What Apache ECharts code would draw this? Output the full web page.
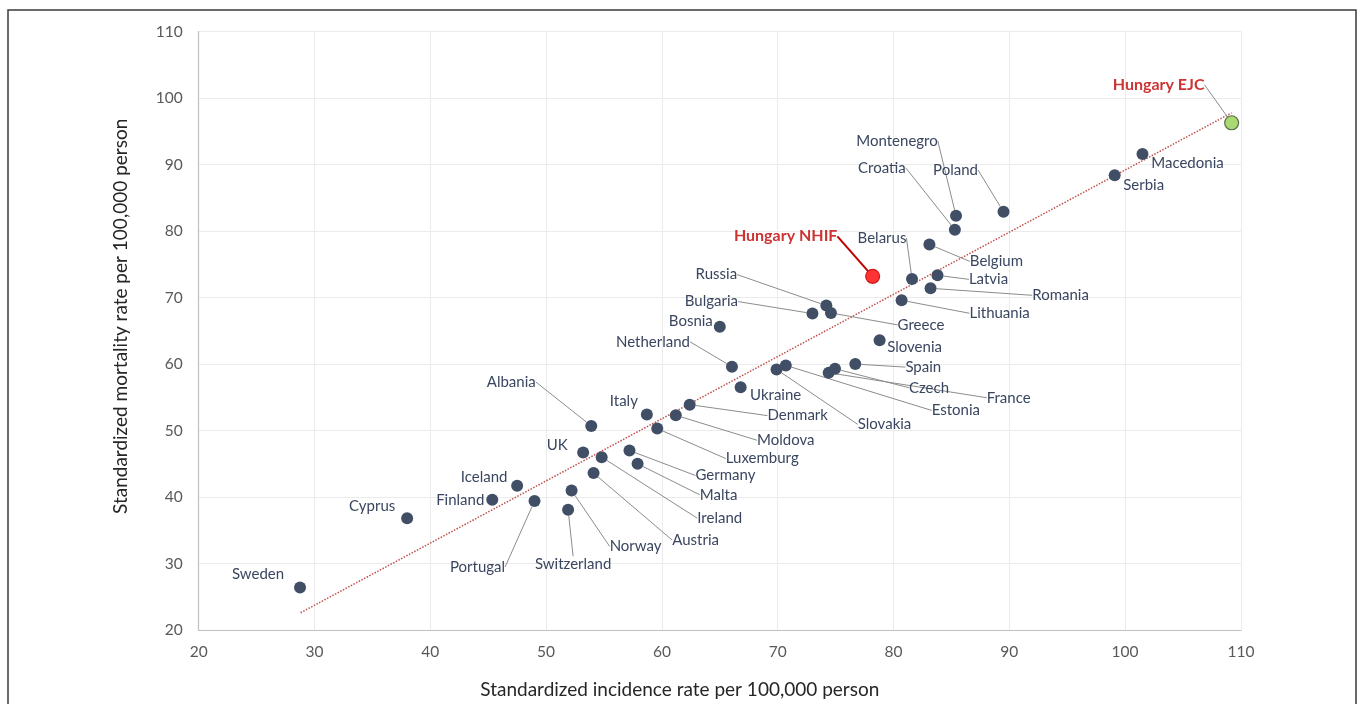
<!DOCTYPE html>
<html>
<head>
<meta charset="utf-8">
<script src="https://cdn.jsdelivr.net/npm/echarts@6/dist/echarts.min.js"></script>
<style>
html,body{margin:0;padding:0;background:#fff;}
#chart{width:1360px;height:704px;}
</style>
</head>
<body>
<div id="chart"></div>
<script>
// ---- data ----
const countries = ['Sweden','Cyprus','Finland','Iceland','Portugal','Switzerland','Norway','UK','Albania','Austria','Ireland','Germany','Malta','Italy','Luxemburg','Moldova','Denmark','Netherland','Ukraine','Slovakia','Estonia','France','Czech','Spain','Slovenia','Bosnia','Bulgaria','Russia','Greece','Belarus','Lithuania','Montenegro','Croatia','Poland','Belgium','Latvia','Romania','Serbia','Macedonia'];
const incidence = [28.75,38.0,45.35,47.5,49.0,51.9,52.2,53.2,53.9,54.1,54.8,57.2,57.9,58.7,59.6,61.2,62.4,66.05,66.8,69.9,70.7,74.4,74.95,76.7,78.8,65.0,73.0,74.2,74.6,81.6,80.7,85.4,85.3,89.5,83.1,83.8,83.2,99.1,101.5];
const mortality = [26.4,36.8,39.6,41.7,39.4,38.1,41.0,46.7,50.7,43.6,46.0,47.0,45.0,52.4,50.3,52.3,53.9,59.6,56.5,59.2,59.8,58.7,59.3,60.0,63.6,65.6,67.6,68.8,67.7,72.8,69.6,82.3,80.2,82.9,78.0,73.35,71.4,88.4,91.6];
const hungaryLabels = ['Hungary NHIF','Hungary EJC'];
const hungaryIncidence = [78.2,109.2];
const hungaryMortality = [73.2,96.3];
const trendIncidence = [28.8,109.2];
const trendMortality = [22.6,97.8];
const axisMin = 20, axisMax = 110, axisStep = 10;
const xTitle = 'Standardized incidence rate per 100,000 person';
const yTitle = 'Standardized mortality rate per 100,000 person';

// ---- label placement (pixel offsets from the marker) ----
const labelOffset = {
  Sweden:[-42,-13], Cyprus:[-35,-12], Finland:[-32,0], Iceland:[-33,-9], Portugal:[-57,66],
  Switzerland:[5,54], Norway:[64,56], UK:[-26,-7], Albania:[-80,-44], Austria:[102,67],
  Ireland:[118,61], Germany:[96,25], Malta:[81,31], Italy:[-23,-13], Luxemburg:[105,30],
  Moldova:[110,25], Denmark:[108,11], Netherland:[-79,-25], Ukraine:[35,8], Slovakia:[108,55],
  Estonia:[170,45], France:[180,25], Czech:[94,19], Spain:[68,3], Slovenia:[35,7],
  Bosnia:[-29,-6], Bulgaria:[-101,-12], Russia:[-110,-31], Greece:[90,12], Belarus:[-30,-41],
  Lithuania:[98,13], Montenegro:[-59,-75], Croatia:[-73,-62], Poland:[-48,-42], Belgium:[67,17],
  Latvia:[51,4], Romania:[130,7], Serbia:[29,10], Macedonia:[45,9]
};
const noLeader = ['Sweden','Cyprus','Finland','Iceland','UK','Italy','Ukraine','Bosnia','Slovenia','Serbia','Macedonia'];
const hungaryOffset = [[-87,-40],[-73,-38]];

const FONT = 'Lato';
const TEXT = '#3A4660';
const chart = echarts.init(document.getElementById('chart'));

const countryData = countries.map((c,i)=>({
  name:c, value:[incidence[i],mortality[i]],
  labelLine:{show: noLeader.indexOf(c) < 0}
}));
const hungaryData = hungaryLabels.map((c,i)=>({
  name:c, value:[hungaryIncidence[i],hungaryMortality[i]],
  itemStyle: i===0 ? {color:'#FF0000',borderColor:'#C00000',borderWidth:1.2} : {color:'#92D050',borderColor:'#3F4F2A',borderWidth:1.2},
  labelLine: i===0 ? {show:true,lineStyle:{color:'#C00000',width:2}} : {show:true,lineStyle:{color:'#8C8C8C',width:1}}
}));

chart.setOption({
  animation:false,
  backgroundColor:'#fff',
  graphic:[{type:'rect',shape:{x:8,y:10,width:1348,height:720},style:{fill:'none',stroke:'#3A3A3A',lineWidth:1.5},z:-1}],
  grid:{left:198.7,right:119.1,top:31.7,bottom:73.7},
  xAxis:{
    type:'value',min:axisMin,max:axisMax,interval:axisStep,
    name:xTitle,nameLocation:'middle',nameGap:50,
    nameTextStyle:{fontFamily:FONT,fontSize:19,color:'#262626',padding:[0,80,0,0]},
    axisLine:{show:true,lineStyle:{color:'#BFBFBF',width:1.2}},
    axisTick:{show:false},
    axisLabel:{fontFamily:FONT,fontSize:15.5,color:'#595959',margin:14},
    splitLine:{show:true,lineStyle:{color:'#EBEBEB',width:1}}
  },
  yAxis:{
    type:'value',min:axisMin,max:axisMax,interval:axisStep,
    name:yTitle,nameLocation:'middle',nameGap:68,
    nameTextStyle:{fontFamily:FONT,fontSize:19,color:'#262626',padding:[0,0,0,29]},
    axisLine:{show:true,lineStyle:{color:'#BFBFBF',width:1.2}},
    axisTick:{show:false},
    axisLabel:{fontFamily:FONT,fontSize:15.5,color:'#595959',margin:16},
    splitLine:{show:true,lineStyle:{color:'#EBEBEB',width:1}}
  },
  series:[
    {
      type:'line',data:trendIncidence.map((x,i)=>[x,trendMortality[i]]),
      symbol:'none',lineStyle:{color:'#C0504D',width:1.5,type:[1.5,1.5]},z:1,silent:true
    },
    {
      type:'scatter',data:countryData,symbolSize:12,z:3,
      itemStyle:{color:'#414F66',opacity:1},
      label:{show:true,position:'inside',formatter:'{b}',fontFamily:FONT,fontSize:15,color:TEXT},
      labelLine:{show:true,lineStyle:{color:'#8C8C8C',width:1}},
      labelLayout:function(p){const o=labelOffset[countries[p.dataIndex]];return {dx:o[0],dy:o[1]};}
    },
    {
      type:'scatter',data:hungaryData,symbolSize:14,z:4,
      label:{show:true,position:'inside',formatter:'{b}',fontFamily:FONT,fontSize:16,fontWeight:'bold',color:'#C00000'},
      labelLine:{show:true},
      labelLayout:function(p){const o=hungaryOffset[p.dataIndex];return {dx:o[0],dy:o[1]};}
    }
  ]
});
</script>
</body>
</html>
